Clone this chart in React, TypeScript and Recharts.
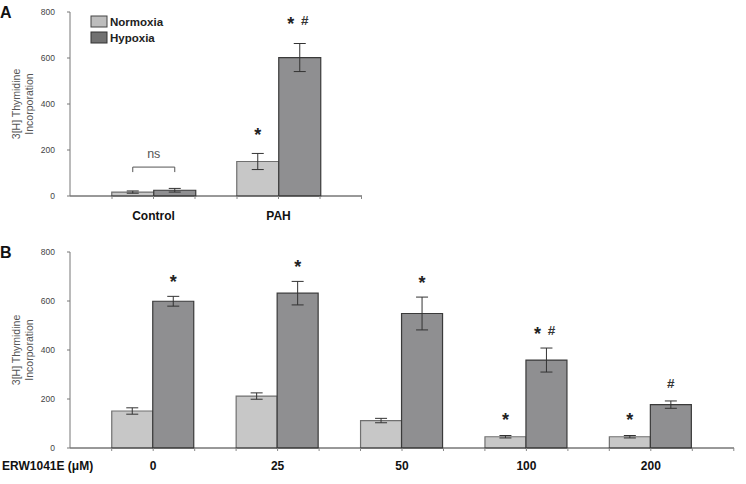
import React from 'react';
import { BarChart, Bar, XAxis, YAxis, ErrorBar, LabelList, Label } from 'recharts';

const groupsA = ['Control', 'PAH'];
const normoxiaA = [17, 150];
const normoxiaErrA = [5, 35];
const hypoxiaA = [25, 602];
const hypoxiaErrA = [8, 61];
const normoxiaSigA = ['', '*'];
const hypoxiaSigA = ['', '* #'];
const bracketA = ['ns', ''];

const dosesB = ['0', '25', '50', '100', '200'];
const normoxiaB = [151, 212, 112, 46, 46];
const normoxiaErrB = [13, 13, 9, 5, 5];
const hypoxiaB = [599, 632, 549, 359, 177];
const hypoxiaErrB = [20, 48, 67, 49, 15];
const normoxiaSigB = ['', '', '', '*', '*'];
const hypoxiaSigB = ['*', '*', '*', '* #', '#'];

const yTicks = [0, 200, 400, 600, 800];
const seriesNames = ['Normoxia', 'Hypoxia'];

const FONT = '"Liberation Sans", Arial, sans-serif';
const N_FILL = '#c7c7c7';
const N_STROKE = '#707070';
const H_FILL = '#8f8f91';
const H_STROKE = '#3a3a3a';

const dataA = groupsA.map((g, i) => ({
  group: g,
  n: normoxiaA[i],
  nErr: normoxiaErrA[i],
  h: hypoxiaA[i],
  hErr: hypoxiaErrA[i],
}));
const dataB = dosesB.map((g, i) => ({
  group: g,
  n: normoxiaB[i],
  nErr: normoxiaErrB[i],
  h: hypoxiaB[i],
  hErr: hypoxiaErrB[i],
}));

const Star = ({ x, cy }: { x: number; cy: number }) => (
  <text x={x} y={cy + 10} fontSize={18} fontWeight="bold" fill="#222" textAnchor="middle" fontFamily={FONT}>*</text>
);
const Hash = ({ x, cy }: { x: number; cy: number }) => (
  <text x={x} y={cy + 5} fontSize={13.5} fontWeight="bold" fill="#333" textAnchor="middle" fontFamily={FONT}>#</text>
);

const sigContent = (errs: number[], sigs: string[], gap: number) => (props: any) => {
  const { x, y, width, height, value, index } = props;
  const s = sigs[index];
  if (!s) return null;
  const pxPer = value ? height / value : 0;
  const errTop = y - errs[index] * pxPer;
  const cy = errTop - gap;
  const cx = x + width / 2;
  if (s === '*') return <Star x={cx} cy={cy} />;
  if (s === '#') return <Hash x={cx} cy={cy} />;
  return (
    <g>
      <Star x={cx - 9} cy={cy} />
      <Hash x={cx + 5} cy={cy} />
    </g>
  );
};

const bracketContent = (labels: string[]) => (props: any) => {
  const { x, y, width, index } = props;
  const t = labels[index];
  if (!t) return null;
  const x1 = x + width / 2;
  const x2 = x + width * 1.5;
  const by = y - 25;
  return (
    <g>
      <path d={`M${x1},${by + 5} V${by} H${x2} V${by + 5}`} stroke="#555" strokeWidth={1} fill="none" />
      <text x={(x1 + x2) / 2} y={by - 9} fontSize={12.5} fill="#555" textAnchor="middle" fontFamily={FONT}>{t}</text>
    </g>
  );
};

const makeTick = (labelOffset: number) => (props: any) => {
  const { x, y, payload, index, visibleTicksCount } = props;
  const offsets = index === visibleTicksCount - 1 ? [-1, 0, 1, 2] : [-1, 0, 1];
  return (
    <g>
      {offsets.map((k) => (
        <line key={k} x1={x + k * 41.5} x2={x + k * 41.5} y1={y} y2={y + 3} stroke="#888" strokeWidth={1} />
      ))}
      <text x={x} y={y + labelOffset} textAnchor="middle" fontWeight="bold" fontSize={12} fill="#111" fontFamily={FONT}>
        {payload.value}
      </text>
    </g>
  );
};

const YLabel = (props: any) => {
  const vb = props.viewBox || {};
  const cy = vb.y + vb.height / 2;
  const x1 = vb.x - 24;
  const x2 = vb.x - 11;
  return (
    <g>
      <text x={x1} y={cy} transform={`rotate(-90, ${x1}, ${cy})`} textAnchor="middle" dominantBaseline="central" fontSize={10.5} fill="#555" fontFamily={FONT}>
        3[H] Thymidine
      </text>
      <text x={x2} y={cy} transform={`rotate(-90, ${x2}, ${cy})`} textAnchor="middle" dominantBaseline="central" fontSize={10.5} fill="#555" fontFamily={FONT}>
        Incorporation
      </text>
    </g>
  );
};

const XTitle = (props: any) => {
  const vb = props.viewBox || {};
  return (
    <text x={vb.x - 68} y={vb.y + 22} fontWeight="bold" fontSize={12} fill="#111" fontFamily={FONT}>
      ERW1041E (μM)
    </text>
  );
};

const yAxisProps = {
  domain: [0, 800] as [number, number],
  ticks: yTicks,
  width: 30,
  tickSize: 3,
  tickMargin: 12,
  axisLine: { stroke: '#777' },
  tickLine: { stroke: '#777' },
  tick: { fontSize: 8.5, fill: '#444', fontFamily: FONT },
  interval: 0 as const,
};

export default function App() {
  return (
    <div style={{ position: 'absolute', left: 0, top: 0, width: 746, height: 484, background: '#fff', fontFamily: FONT }}>
      <div style={{ position: 'absolute', left: 0, top: 0 }}>
        <BarChart width={746} height={232} data={dataA} margin={{ top: 12, right: 384, left: 40, bottom: 0 }} barCategoryGap={20.75} barGap={0}>
          <XAxis dataKey="group" padding={{ left: 21, right: 21 }} axisLine={{ stroke: '#333' }} tickLine={false} tickSize={0} tickMargin={0} tick={makeTick(24)} height={36} interval={0} />
          <YAxis {...yAxisProps}>
            <Label content={YLabel} />
          </YAxis>
          <Bar dataKey="n" name={seriesNames[0]} fill={N_FILL} stroke={N_STROKE} strokeWidth={1.2} isAnimationActive={false}>
            <ErrorBar dataKey="nErr" width={6} stroke="#333" strokeWidth={1} />
            <LabelList dataKey="n" content={sigContent(normoxiaErrA, normoxiaSigA, 22)} />
            <LabelList dataKey="n" content={bracketContent(bracketA)} />
          </Bar>
          <Bar dataKey="h" name={seriesNames[1]} fill={H_FILL} stroke={H_STROKE} strokeWidth={1.2} isAnimationActive={false}>
            <ErrorBar dataKey="hErr" width={6} stroke="#333" strokeWidth={1} />
            <LabelList dataKey="h" content={sigContent(hypoxiaErrA, hypoxiaSigA, 24)} />
          </Bar>
        </BarChart>
      </div>
      <div style={{ position: 'absolute', left: 0, top: 232 }}>
        <BarChart width={746} height={252} data={dataB} margin={{ top: 20, right: 12, left: 40, bottom: 0 }} barCategoryGap={20.75} barGap={0}>
          <XAxis dataKey="group" padding={{ left: 21, right: 21 }} axisLine={{ stroke: '#333' }} tickLine={false} tickSize={0} tickMargin={0} tick={makeTick(22)} height={36} interval={0}>
            <Label content={XTitle} />
          </XAxis>
          <YAxis {...yAxisProps}>
            <Label content={YLabel} />
          </YAxis>
          <Bar dataKey="n" name={seriesNames[0]} fill={N_FILL} stroke={N_STROKE} strokeWidth={1.2} isAnimationActive={false}>
            <ErrorBar dataKey="nErr" width={6} stroke="#333" strokeWidth={1} />
            <LabelList dataKey="n" content={sigContent(normoxiaErrB, normoxiaSigB, 20)} />
          </Bar>
          <Bar dataKey="h" name={seriesNames[1]} fill={H_FILL} stroke={H_STROKE} strokeWidth={1.2} isAnimationActive={false}>
            <ErrorBar dataKey="hErr" width={6} stroke="#333" strokeWidth={1} />
            <LabelList dataKey="h" content={sigContent(hypoxiaErrB, hypoxiaSigB, 18)} />
          </Bar>
        </BarChart>
      </div>
      <svg width={746} height={484} style={{ position: 'absolute', left: 0, top: 0, pointerEvents: 'none' }}>
        <text x={0} y={18} fontSize={16} fontWeight="bold" fill="#111" fontFamily={FONT}>A</text>
        <text x={0} y={258} fontSize={16} fontWeight="bold" fill="#111" fontFamily={FONT}>B</text>
        <rect x={91} y={16} width={16} height={11} fill="#bdbdbd" stroke="#444" strokeWidth={1} />
        <text x={110} y={25.5} fontSize={11.5} fontWeight="bold" fill="#222" fontFamily={FONT}>{seriesNames[0]}</text>
        <rect x={91} y={32} width={16} height={11} fill="#717171" stroke="#333" strokeWidth={1} />
        <text x={110} y={42} fontSize={11.5} fontWeight="bold" fill="#222" fontFamily={FONT}>{seriesNames[1]}</text>
      </svg>
    </div>
  );
}
